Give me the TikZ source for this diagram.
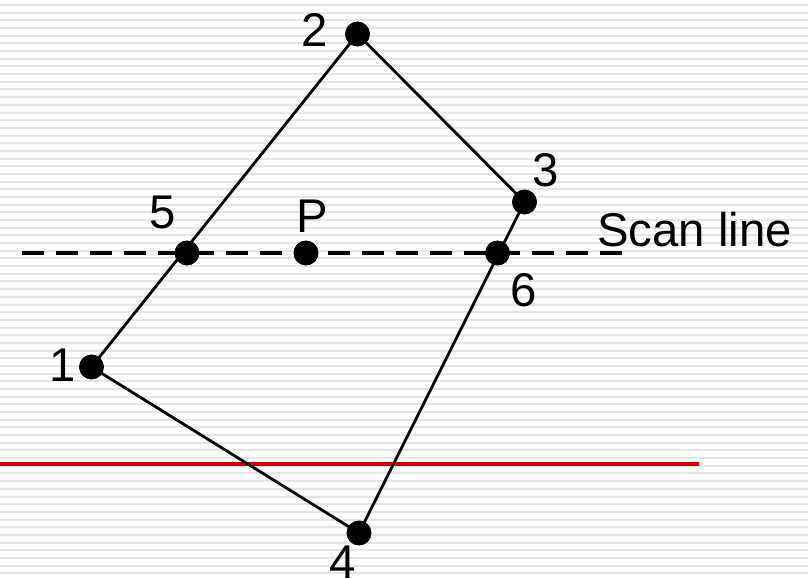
\documentclass[tikz,border=0pt]{standalone}
\usepackage{fontspec}
\setmainfont{Liberation Sans}
\begin{document}
\begin{tikzpicture}[x=0.75pt,y=-0.75pt,
  dot/.style={circle,fill=black,inner sep=0pt,minimum size=18.5pt},
  lbl/.style={inner sep=0pt,font=\fontsize{35.5}{41}\selectfont},
  edge/.style={line width=2.1pt,black},
  scan/.style={line width=2.4pt,black,dash pattern=on 16.5pt off 9pt},
  bgline/.style={line width=1.5pt,color=black!10},
  redline/.style={line width=2.4pt,color=red!80!black}]
\useasboundingbox (0,0) rectangle (808,579);
\fill[white] (0,0) rectangle (808,579);
\foreach \k in {0,...,74}{
  \draw[bgline] (0,{5+7.68*\k}) -- (808,{5+7.68*\k});
}
% points
\node[dot] (p2) at (357.5,34) {};
\node[dot] (p3) at (524.5,202) {};
\node[dot] (p5) at (187,253) {};
\node[dot] (pP) at (306,253) {};
\node[dot] (p6) at (497.5,253) {};
\node[dot] (p1) at (91.5,367) {};
\node[dot] (p4) at (359,533) {};
\coordinate (s0) at (22,253);
\coordinate (s1) at (622,253);
\coordinate (r0) at (0,464);
\coordinate (r1) at (699,464);
% red line
\draw[redline] (r0) -- (r1);
% polygon
\draw[edge] (p1.center) -- (p2.center) -- (p3.center) -- (p4.center) -- (p1.center);
% scan line
\draw[scan] (s0) -- (s1);
% redraw dots on top
\foreach \n in {p1,p2,p3,p4,p5,pP,p6}{
  \fill (\n) circle[radius=9.25pt];
}
% labels
\node[lbl] (l2) at (315,29.5) {2};
\node[lbl] (l3) at (546,170) {3};
\node[lbl] (l5) at (163,212) {5};
\node[lbl] (lP) at (312,216.5) {P};
\node[lbl] (l6) at (524,290) {6};
\node[lbl] (l1) at (63,365) {1};
\node[lbl] (l4) at (343,562) {4};
\node[lbl,anchor=west] (ls) at (597,230) {Scan line};
\end{tikzpicture}
\end{document}
